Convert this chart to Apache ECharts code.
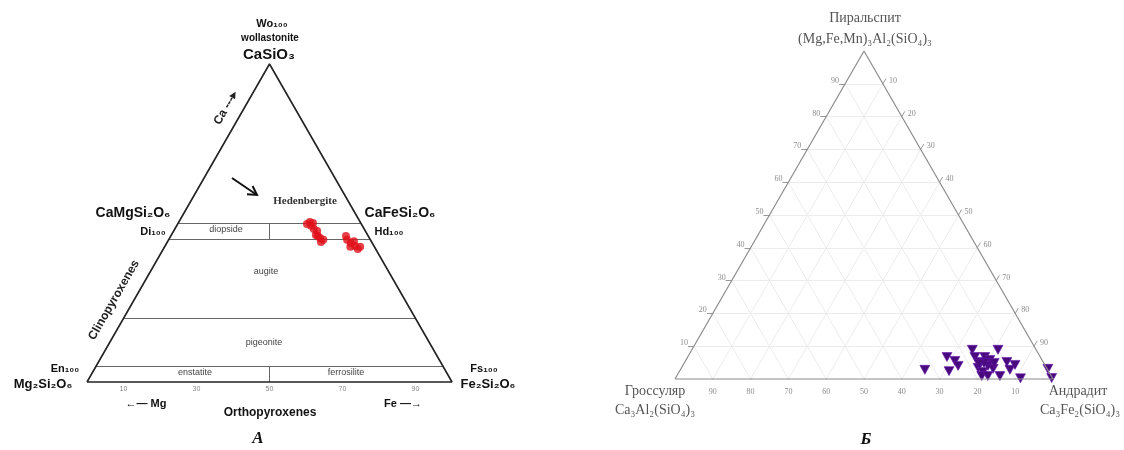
<!DOCTYPE html>
<html>
<head>
<meta charset="utf-8">
<script src="https://cdn.jsdelivr.net/npm/echarts@6/dist/echarts.min.js"></script>
<style>
  html, body { margin: 0; padding: 0; background: #fff; }
  #chart { width: 1124px; height: 450px; }
</style>
</head>
<body>
<div id="chart"></div>
<script>
// А: пироксены, Wo и Fs в % (En = 100 - Wo - Fs)
const pxWo = [50.3, 50.0, 49.7, 49.1, 48.1, 47.5, 46.2, 45.9, 45.3, 44.7, 44.0, 45.9, 44.7, 44.3, 43.7, 42.8, 42.5, 42.5, 41.8];
const pxFs = [35.9, 36.9, 35.4, 36.8, 38.1, 39.3, 39.6, 40.3, 41.2, 42.4, 42.1, 48.0, 48.9, 51.0, 50.4, 52.0, 50.9, 53.6, 53.3];
const pxBoundWo = [50, 45, 20, 5];          // горизонтальные границы полей
const pxTicks = [10, 30, 50, 70, 90];

// Б: гранаты, пиральспит и андрадит в % (гроссуляр = остаток)
const grtPyr = [2.8, 6.7, 2.4, 5.5, 4.0, 8.9, 8.9, 0.9, 5.2, 2.8, 4.3, 0.2, 3.1, 0.3,
                6.7, 5.2, 6.7, 5.8, 3.4, 2.1, 4.0, 3.1, 0.9, 0.9, 4.9, 4.9, 4.6];
const grtAdr = [64.7, 68.6, 71.3, 71.3, 72.9, 74.2, 81.0, 85.5, 85.2, 87.2, 87.8, 91.3, 97.1, 99.5,
                76.0, 78.1, 78.6, 80.4, 78.5, 80.4, 80.8, 82.6, 80.7, 82.3, 79.3, 82.0, 78.1];
const tickVals = [10, 20, 30, 40, 50, 60, 70, 80, 90];

const SANS = '"Liberation Sans", Arial, sans-serif';
const SERIF = '"Liberation Serif", "Times New Roman", serif';

// тернарные координаты -> декартовы (в долях высоты треугольника)
const toL = (wo, fs) => [fs / 100 + wo / 200, wo / 100];
const toR = (pyr, adr) => [adr / 100 + pyr / 200, pyr / 100];

const pxOutline = [toL(0, 0), toL(0, 100), toL(100, 0), toL(0, 0)];
const pxBounds = pxBoundWo.map(w => ({ coords: [toL(w, 0), toL(w, 100 - w)] }));
pxBounds.push({ coords: [toL(45, 27.5), toL(50, 25)] }, { coords: [toL(0, 50), toL(5, 47.5)] });

const grtOutline = [toR(0, 0), toR(0, 100), toR(100, 0), toR(0, 0)];
const grtGrid = [];
const grtTickMarks = [];
tickVals.forEach(k => {
  grtGrid.push({ coords: [toR(k, 0), toR(k, 100 - k)] });
  grtGrid.push({ coords: [toR(0, k), toR(100 - k, k)] });
  grtGrid.push({ coords: [toR(0, 100 - k), toR(100 - k, 0)] });
  grtTickMarks.push({ coords: [toR(k, 0), toR(k, -1.6)] });
  grtTickMarks.push({ coords: [toR(100 - k, k), toR(101.6 - k, k)] });
  grtTickMarks.push({ coords: [toR(0, 100 - k), toR(-1.6, 101.6 - k)] });
});

const chart = echarts.init(document.getElementById('chart'));

function txt(x, y, text, font, fill, extra) {
  return Object.assign({
    type: 'text', x, y, silent: true,
    style: { text, font, fill: fill || '#111', align: 'center', verticalAlign: 'middle' }
  }, extra || {});
}

function tickLabels(data, offset) {
  return {
    type: 'scatter', xAxisIndex: 1, yAxisIndex: 1, symbolSize: 0, silent: true, clip: false,
    data,
    label: { show: true, position: 'inside', offset, formatter: p => p.value[2],
             color: '#6e6e6e', fontSize: 8, fontFamily: SERIF }
  };
}

const option = {
  animation: false,
  grid: [
    { left: 87, width: 365, top: 64, height: 318, containLabel: false, outerBoundsMode: 'none' },
    { left: 675, width: 378, top: 51, height: 328, containLabel: false, outerBoundsMode: 'none' }
  ],
  xAxis: [
    { gridIndex: 0, type: 'value', min: 0, max: 1, show: false },
    { gridIndex: 1, type: 'value', min: 0, max: 1, show: false }
  ],
  yAxis: [
    { gridIndex: 0, type: 'value', min: 0, max: 1, show: false },
    { gridIndex: 1, type: 'value', min: 0, max: 1, show: false }
  ],
  series: [
    // ---- А ----
    { type: 'lines', coordinateSystem: 'cartesian2d', xAxisIndex: 0, yAxisIndex: 0, silent: true,
      data: pxBounds, lineStyle: { color: '#666', width: 1, opacity: 1 } },
    { type: 'line', xAxisIndex: 0, yAxisIndex: 0, data: pxOutline, symbol: 'none', silent: true, clip: false,
      lineStyle: { color: '#222', width: 1.6 } },
    { type: 'scatter', xAxisIndex: 0, yAxisIndex: 0, symbolSize: 0, silent: true, clip: false,
      data: pxTicks.map(v => [...toL(0, v), v]),
      label: { show: true, position: 'inside', offset: [0, 7], formatter: p => p.value[2],
               color: '#666', fontSize: 7, fontFamily: SANS } },
    { type: 'scatter', xAxisIndex: 0, yAxisIndex: 0, symbol: 'circle', symbolSize: 8,
      data: pxWo.map((w, i) => toL(w, pxFs[i])),
      itemStyle: { color: '#e0101a' } },
    // ---- Б ----
    { type: 'lines', coordinateSystem: 'cartesian2d', xAxisIndex: 1, yAxisIndex: 1, silent: true,
      data: grtGrid, lineStyle: { color: '#ececec', width: 1, opacity: 1 } },
    { type: 'lines', coordinateSystem: 'cartesian2d', xAxisIndex: 1, yAxisIndex: 1, silent: true,
      data: grtTickMarks, lineStyle: { color: '#999', width: 1, opacity: 1 } },
    { type: 'line', xAxisIndex: 1, yAxisIndex: 1, data: grtOutline, symbol: 'none', silent: true, clip: false,
      lineStyle: { color: '#8c8c8c', width: 1.2 } },
    tickLabels(tickVals.map(k => [...toR(k, 0), k]), [-10, -3]),
    tickLabels(tickVals.map(k => [...toR(100 - k, k), k]), [10, -3]),
    tickLabels(tickVals.map(k => [...toR(0, 100 - k), k]), [0, 13]),
    { type: 'scatter', xAxisIndex: 1, yAxisIndex: 1, symbol: 'triangle', symbolRotate: 180, symbolSize: [10, 9], clip: false,
      data: grtPyr.map((p, i) => toR(p, grtAdr[i])),
      itemStyle: { color: '#480a7c', borderColor: '#6516b0', borderWidth: 0.6, opacity: 1 } }
  ],
  graphic: [
    // А
    txt(272, 24, 'Wo₁₀₀', 'bold 11px ' + SANS),
    txt(270, 38, 'wollastonite', 'bold 10px ' + SANS),
    txt(269, 55, 'CaSiO₃', 'bold 15px ' + SANS),
    txt(226, 108, 'Ca ---▸', 'bold 12px ' + SANS, '#222', { rotation: Math.PI / 3 }),
    txt(133, 213, 'CaMgSi₂O₆', 'bold 14px ' + SANS),
    txt(153, 232, 'Di₁₀₀', 'bold 11px ' + SANS),
    txt(400, 213, 'CaFeSi₂O₆', 'bold 14px ' + SANS),
    txt(389, 232, 'Hd₁₀₀', 'bold 11px ' + SANS),
    txt(305, 201, 'Hedenbergite', 'bold 11px ' + SERIF, '#333'),
    txt(226, 230, 'diopside', '9px ' + SANS, '#444'),
    txt(266, 272, 'augite', '9px ' + SANS, '#444'),
    txt(264, 343, 'pigeonite', '9px ' + SANS, '#444'),
    txt(195, 373, 'enstatite', '9px ' + SANS, '#444'),
    txt(346, 373, 'ferrosilite', '9px ' + SANS, '#444'),
    txt(65, 369, 'En₁₀₀', 'bold 11px ' + SANS),
    txt(43, 384, 'Mg₂Si₂O₆', 'bold 13px ' + SANS),
    txt(484, 369, 'Fs₁₀₀', 'bold 11px ' + SANS),
    txt(488, 384, 'Fe₂Si₂O₆', 'bold 13px ' + SANS),
    txt(146, 404, '←— Mg', 'bold 11px ' + SANS),
    txt(403, 404, 'Fe —→', 'bold 11px ' + SANS),
    txt(270, 413, 'Orthopyroxenes', 'bold 12px ' + SANS),
    txt(114, 300, 'Clinopyroxenes', 'bold 12px ' + SANS, '#222', { rotation: Math.PI / 3 }),
    txt(258, 439, 'A', 'italic bold 17px ' + SERIF),
    { type: 'polyline', silent: true, shape: { points: [[232, 178], [257, 195]] },
      style: { stroke: '#111', lineWidth: 2, fill: null } },
    { type: 'polyline', silent: true, shape: { points: [[247, 194.3], [257, 195], [252.6, 186]] },
      style: { stroke: '#111', lineWidth: 2, fill: null } },
    // Б
    txt(865, 18, 'Пиральспит', '14px ' + SERIF, '#555'),
    txt(865, 39, '(Mg,Fe,Mn)₃Al₂(SiO₄)₃', '14px ' + SERIF, '#555'),
    txt(655, 391, 'Гроссуляр', '14px ' + SERIF, '#555'),
    txt(655, 410, 'Ca₃Al₂(SiO₄)₃', '14px ' + SERIF, '#555'),
    txt(1078, 391, 'Андрадит', '14px ' + SERIF, '#555'),
    txt(1080, 410, 'Ca₃Fe₂(SiO₄)₃', '14px ' + SERIF, '#555'),
    txt(866, 440, 'Б', 'italic bold 17px ' + SERIF)
  ]
};

chart.setOption(option);
window.addEventListener('resize', () => chart.resize());
</script>
</body>
</html>
